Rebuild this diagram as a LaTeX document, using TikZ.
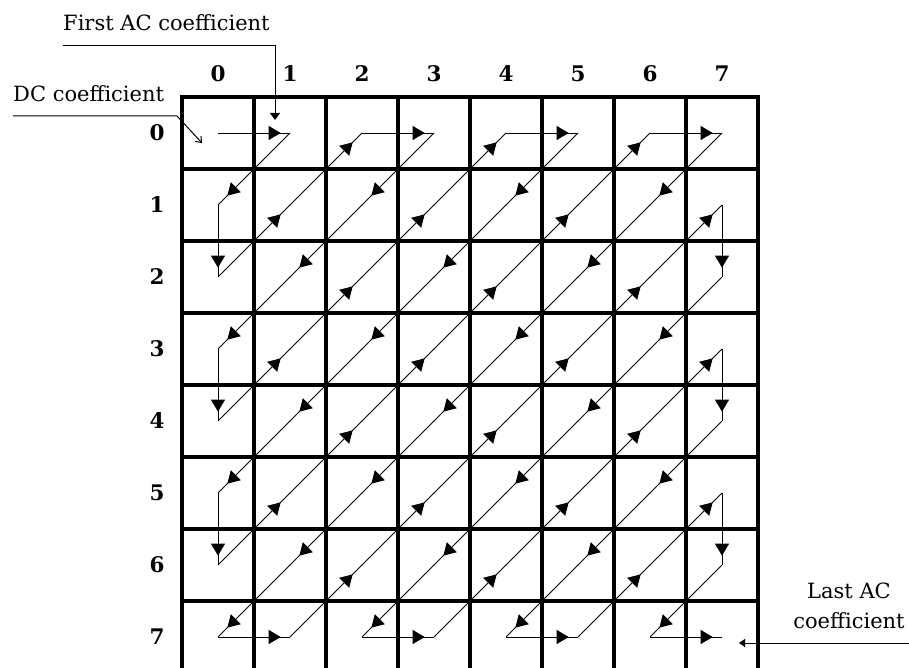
\documentclass[tikz,border=0pt]{standalone}
\usepackage{fontspec}
\setmainfont{DejaVu Serif}
\usetikzlibrary{arrows.meta, decorations.markings}
\tikzset{
  gridline/.style = {line width=3.5pt, line cap=rect},
  zz/.style       = {line width=0.9pt,
                     decoration={markings, mark=at position 0.87 with
                       {\arrow{Triangle[length=12pt,width=14pt]}}},
                     postaction=decorate},
  callout/.style  = {line width=1pt},
  num/.style      = {font=\fontsize{21.5}{24}\selectfont\bfseries, inner sep=0pt},
  txt/.style      = {font=\fontsize{21}{30}\selectfont, inner sep=0pt},
}

\begin{document}
\begin{tikzpicture}[x=1pt, y=-1pt]
  \useasboundingbox (0,0) rectangle (909,668);
  \clip (0,0) rectangle (909,668);

  % cell centres, row/column
  \foreach \r in {0,...,7}
    \foreach \c in {0,...,7}
      \coordinate (c\r\c) at ({218+72*\c},{133+72*\r});

  % the 8x8 block
  \foreach \k in {0,...,8} {
    \draw[gridline] ({182+72*\k},97) -- ({182+72*\k},680);
    \draw[gridline] (182,{97+72*\k}) -- (758,{97+72*\k});
  }

  % indices
  \foreach \k in {0,...,7} {
    \node[num] (col\k) at ({218+72*\k},74) {\k};
    \node[num] (row\k) at (157,{133+72*\k}) {\k};
  }

  % zig-zag scan
  \foreach \r/\c [remember=\r as \pr (initially 0), remember=\c as \pc (initially 0)] in
    {0/1, 1/0, 2/0, 1/1, 0/2, 0/3, 1/2, 2/1, 3/0, 4/0, 3/1, 2/2, 1/3, 0/4,
     0/5, 1/4, 2/3, 3/2, 4/1, 5/0, 6/0, 5/1, 4/2, 3/3, 2/4, 1/5, 0/6,
     0/7, 1/6, 2/5, 3/4, 4/3, 5/2, 6/1, 7/0, 7/1, 6/2, 5/3, 4/4, 3/5, 2/6, 1/7,
     2/7, 3/6, 4/5, 5/4, 6/3, 7/2, 7/3, 6/4, 5/5, 4/6, 3/7,
     4/7, 5/6, 6/5, 7/4, 7/5, 6/6, 5/7, 6/7, 7/6, 7/7}
    \draw[zz] (c\pr\pc) -- (c\r\c);

  % callouts
  \node[txt, anchor=base west] (firstac) at (63,31) {First AC coefficient};
  \coordinate (acstart) at (63,46);
  \coordinate (acbend) at (275,46);
  \coordinate (actip) at (275,120);
  \draw[callout, -{Triangle[length=7pt,width=10pt]}] (acstart) -- (acbend) -- (actip);

  \node[txt, anchor=base west] (dc) at (13,101.5) {DC coefficient};
  \coordinate (dcstart) at (13,116);
  \coordinate (dcbend) at (177,116);
  \coordinate (dctip) at (202,143);
  \draw[callout, -{Straight Barb[length=5pt,width=8pt]}] (dcstart) -- (dcbend) -- (dctip);

  \node[txt, align=center] (lastac) at (849,606) {Last AC\\coefficient};
  \coordinate (laststart) at (909,643);
  \coordinate (lasttip) at (739,643);
  \draw[callout, -{Triangle[length=6pt,width=8pt]}] (laststart) -- (lasttip);
\end{tikzpicture}
\end{document}
